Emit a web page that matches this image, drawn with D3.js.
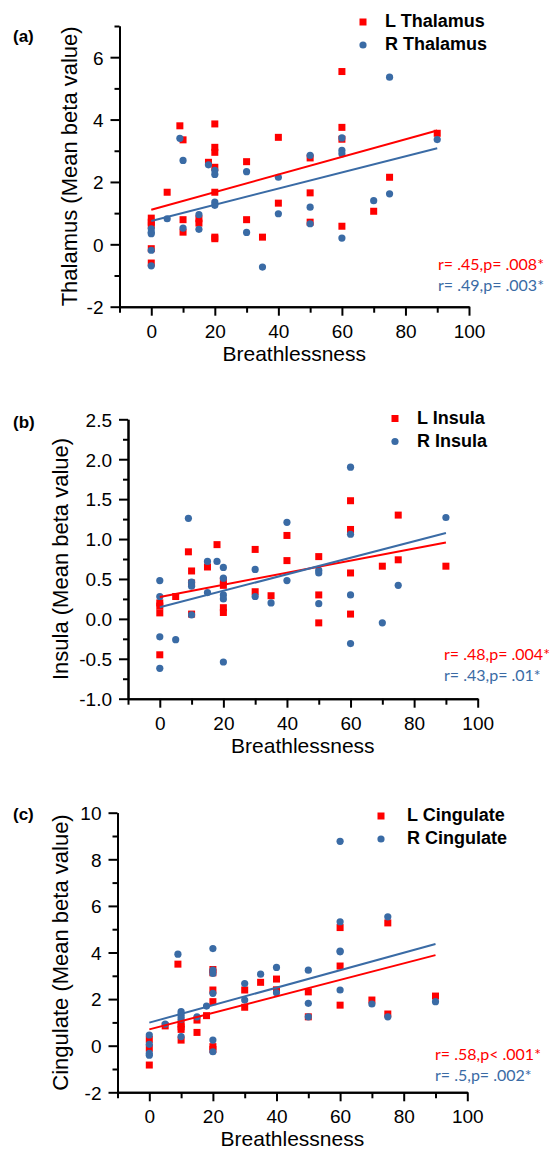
<!DOCTYPE html>
<html>
<head>
<meta charset="utf-8">
<script src="https://cdn.jsdelivr.net/npm/d3@7"></script>
<style>
  body { margin: 0; background: #fff; }
  svg { display: block; }
</style>
</head>
<body>
<div id="chart"></div>
<script>
// data: [breathlessness, mean beta]
var thalamusL = [[0,0.84],[0,0.71],[0,0.61],[0,-0.14],[0,-0.6],[5,1.67],[9,3.8],[10,3.35],[10,0.79],[10,0.39],
  [15,0.82],[15,0.68],[18,2.63],[20,3.86],[20,3.11],[20,2.95],[20,2.47],[20,1.67],[20,0.23],[20,0.18],
  [30,2.65],[30,0.79],[35,0.23],[40,3.43],[40,1.32],[50,2.77],[50,1.65],[50,0.71],[60,5.54],[60,3.75],
  [60,3.37],[60,0.58],[70,1.06],[75,2.15],[90,3.56]]
var thalamusR = [[0,0.5],[0,0.39],[0,0.34],[0,-0.19],[0,-0.69],[5,0.82],[9,3.4],[10,2.69],[10,0.52],[15,0.95],
  [15,0.48],[18,2.55],[20,2.37],[20,2.24],[20,1.35],[20,1.25],[30,2.33],[30,0.38],[35,-0.73],[40,2.15],
  [40,0.98],[50,2.85],[50,1.19],[50,0.66],[60,3.41],[60,3.01],[60,2.9],[60,0.2],[70,1.4],[75,5.36],
  [75,1.62],[90,3.36]]
var insulaL = [[0,0.2],[0,0.16],[0,0.075],[0,-0.45],[5,0.28],[9,0.84],[10,0.6],[10,0.45],[10,0.06],[15,0.65],
  [18,0.93],[20,0.48],[20,0.42],[20,0.14],[20,0.08],[30,0.87],[30,0.34],[35,0.29],[40,1.045],[40,0.73],
  [50,0.78],[50,0.3],[50,-0.05],[60,1.48],[60,1.12],[60,0.575],[60,0.06],[70,0.66],[75,1.3],[75,0.74],[90,0.66]]
var insulaR = [[0,0.48],[0,0.28],[0,-0.225],[0,-0.62],[5,-0.26],[9,1.26],[10,0.46],[10,0.41],[10,0.05],[15,0.72],
  [15,0.33],[18,0.72],[20,0.645],[20,0.51],[20,0.3],[20,0.25],[20,-0.54],[30,0.62],[30,0.28],[35,0.2],
  [40,1.21],[40,0.48],[50,0.61],[50,0.575],[50,0.19],[60,1.9],[60,1.06],[60,0.3],[60,-0.31],[70,-0.05],
  [75,0.42],[90,1.27]]
var cingulateL = [[0,0.27],[0,-0.11],[0,-0.83],[5,0.85],[9,3.5],[10,0.93],[10,0.81],[10,0.7],[10,0.24],[15,1.1],
  [15,0.57],[18,1.29],[20,3.27],[20,3.13],[20,2.39],[20,1.89],[20,-0.04],[20,-0.16],[30,2.39],[30,1.65],
  [35,2.72],[40,2.86],[40,2.4],[50,2.31],[50,1.24],[60,5.07],[60,3.42],[60,1.74],[70,1.96],[75,5.27],
  [75,1.36],[90,2.13]]
var cingulateR = [[0,0.46],[0,0.06],[0,-0.33],[0,-0.41],[5,0.93],[9,3.93],[10,1.46],[10,1.36],[10,1.24],[10,1.14],
  [10,0.39],[15,1.24],[18,1.7],[20,4.17],[20,3.25],[20,3.1],[20,2.25],[20,0.24],[20,-0.26],[30,2.67],
  [30,1.96],[35,3.07],[40,3.36],[40,2.27],[50,3.24],[50,1.82],[50,1.24],[60,8.77],[60,5.32],[60,4.06],
  [60,4.03],[60,2.39],[70,1.79],[75,5.53],[75,1.24],[90,1.89]]

// fitted lines [intercept, slope] as seen in the figure
var fitL = [[1.11, 0.0282], [0.275, 0.00758], [0.70, 0.0354]]
var fitR = [[0.75, 0.0259], [0.145, 0.01033], [0.99, 0.0375]]

var panelTags = ["(a)", "(b)", "(c)"]
var regions = ["Thalamus", "Insula", "Cingulate"]
var statsL = ["r= .45,p= .008*", "r= .48,p= .004*", "r= .58,p< .001*"]
var statsR = ["r= .49,p= .003*", "r= .43,p= .01*", "r= .5,p= .002*"]
var yDomains = [[-2, 7], [-1, 2.5], [-2, 10]]
var yMajor = [[-2, 0, 2, 4, 6], [-1, -0.5, 0, 0.5, 1, 1.5, 2, 2.5], [-2, 0, 2, 4, 6, 8, 10]]
var yMinor = [[-1, 1, 3, 5, 7], [-0.75, -0.25, 0.25, 0.75, 1.25, 1.75, 2.25], [-1, 1, 3, 5, 7, 9]]
var yFormats = ["d", ".1f", "d"]
var xMajor = [0, 20, 40, 60, 80, 100]
var xMinor = [-10, 10, 30, 50, 70, 90]
var xDomain = [-10, 100]

var series = [[thalamusL, thalamusR], [insulaL, insulaR], [cingulateL, cingulateR]]

var red = "#ff0000", blue = "#3a6ba5"
var axisFont = "'Liberation Sans', Arial, sans-serif"
var statFont = "Lato, 'Open Sans', sans-serif"

// plain hyphen for negatives, like the original
var loc = d3.formatLocale({decimal: ".", thousands: ",", grouping: [3], currency: ["", ""], minus: "-"})

// pixel layout of each panel
var layout = [
  {x0: 119.5, x1: 469, y0: 26, y1: 306.7, tagY: 42, labX: 77, legX: 363, legY: 22, legTx: 385, statX: 438, statY: 270},
  {x0: 128, x1: 477.7, y0: 419.3, y1: 698.7, tagY: 428, labX: 68, legX: 395, legY: 418.5, legTx: 417, statX: 444, statY: 660},
  {x0: 117.5, x1: 467.3, y0: 812.7, y1: 1092.3, tagY: 820, labX: 68, legX: 381, legY: 816, legTx: 407, statX: 435, statY: 1060}
]

var svg = d3.select("#chart").append("svg")
  .attr("width", 556)
  .attr("height", 1151)

svg.append("rect").attr("width", 556).attr("height", 1151).attr("fill", "#fff")

for (let i = 0; i < 3; i++) {
  var L = layout[i]
  var x = d3.scaleLinear().domain(xDomain).range([L.x0, L.x1])
  var y = d3.scaleLinear().domain(yDomains[i]).range([L.y1, L.y0])
  var g = svg.append("g")

  // minor ticks first, then major with labels
  g.append("g")
    .attr("transform", "translate(0," + L.y1 + ")")
    .call(d3.axisBottom(x).tickValues(xMinor).tickFormat("").tickSize(6).tickSizeOuter(0))
  var xa = g.append("g")
    .attr("transform", "translate(0," + L.y1 + ")")
    .call(d3.axisBottom(x).tickValues(xMajor).tickSize(9).tickSizeOuter(0))
  xa.selectAll("text").attr("y", 31).attr("dy", null)

  g.append("g")
    .attr("transform", "translate(" + L.x0 + ",0)")
    .call(d3.axisLeft(y).tickValues(yMinor[i]).tickFormat("").tickSize(5).tickSizeOuter(0))
  var ya = g.append("g")
    .attr("transform", "translate(" + L.x0 + ",0)")
    .call(d3.axisLeft(y).tickValues(yMajor[i]).tickFormat(loc.format(yFormats[i])).tickSize(9).tickPadding(7).tickSizeOuter(0))
  ya.selectAll("text").attr("dy", "0.36em")

  g.selectAll(".domain").attr("stroke", "#000").attr("stroke-width", 2)
  g.selectAll(".tick line").attr("stroke", "#000").attr("stroke-width", 2)
  g.selectAll(".tick text").attr("font-family", axisFont).attr("font-size", 19).attr("fill", "#000")

  // axis titles
  g.append("text")
    .attr("x", (L.x0 + L.x1) / 2)
    .attr("y", L.y1 + 54)
    .attr("text-anchor", "middle")
    .attr("font-family", axisFont)
    .attr("font-size", 21)
    .text("Breathlessness")

  g.append("text")
    .attr("transform", "translate(" + L.labX + "," + ((L.y0 + L.y1) / 2) + ") rotate(-90)")
    .attr("text-anchor", "middle")
    .attr("font-family", axisFont)
    .attr("font-size", 22)
    .text(regions[i] + " (Mean beta value)")

  g.append("text")
    .attr("x", 13)
    .attr("y", L.tagY)
    .attr("font-family", axisFont)
    .attr("font-weight", "bold")
    .attr("font-size", 17)
    .text(panelTags[i])

  // points
  g.append("g").selectAll("rect")
    .data(series[i][0])
    .enter().append("rect")
    .attr("x", function(d) { return x(d[0]) - 3.5 })
    .attr("y", function(d) { return y(d[1]) - 3.5 })
    .attr("width", 7)
    .attr("height", 7)
    .attr("fill", red)

  g.append("g").selectAll("circle")
    .data(series[i][1])
    .enter().append("circle")
    .attr("cx", function(d) { return x(d[0]) })
    .attr("cy", function(d) { return y(d[1]) })
    .attr("r", 3.6)
    .attr("fill", blue)

  // fit lines
  var fits = [[fitL[i], red], [fitR[i], blue]]
  fits.forEach(function(f) {
    g.append("line")
      .attr("x1", x(0)).attr("y1", y(f[0][0]))
      .attr("x2", x(90)).attr("y2", y(f[0][0] + f[0][1] * 90))
      .attr("stroke", f[1])
      .attr("stroke-width", 2)
  })

  // legend
  g.append("rect")
    .attr("x", L.legX - 3.5).attr("y", L.legY - 3.5)
    .attr("width", 7).attr("height", 7)
    .attr("fill", red)
  g.append("circle")
    .attr("cx", L.legX).attr("cy", L.legY + 23)
    .attr("r", 3.6)
    .attr("fill", blue)
  g.append("text")
    .attr("x", L.legTx).attr("y", L.legY + 5)
    .attr("font-family", axisFont).attr("font-weight", "bold").attr("font-size", 18)
    .text("L " + regions[i])
  g.append("text")
    .attr("x", L.legTx).attr("y", L.legY + 28)
    .attr("font-family", axisFont).attr("font-weight", "bold").attr("font-size", 18)
    .text("R " + regions[i])

  // stats
  g.append("text")
    .attr("x", L.statX).attr("y", L.statY)
    .attr("font-family", statFont).attr("font-size", 16)
    .attr("fill", red)
    .text(statsL[i])
  g.append("text")
    .attr("x", L.statX).attr("y", L.statY + 21)
    .attr("font-family", statFont).attr("font-size", 16)
    .attr("fill", blue)
    .text(statsR[i])
}
</script>
</body>
</html>
